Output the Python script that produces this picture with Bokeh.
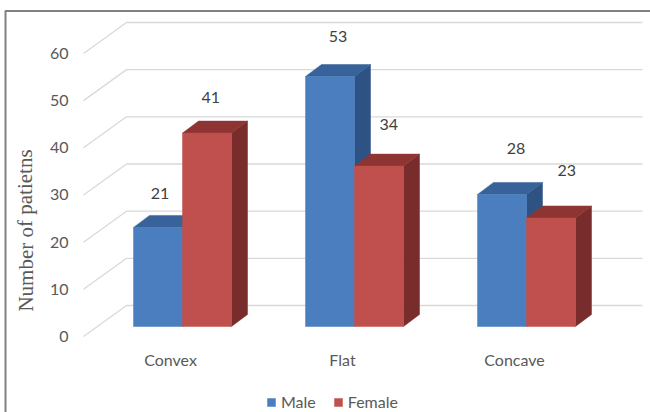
from bokeh.plotting import figure
from bokeh.models import ColumnDataSource, Range1d, Legend, LegendItem
from bokeh.embed import file_html
from bokeh.resources import INLINE
from bokeh.core.properties import value

# ---- data ----
categories = ["Convex", "Flat", "Concave"]
male = [21, 53, 28]
female = [41, 34, 23]
y_ticks = [0, 10, 20, 30, 40, 50, 60]
y_tick_labels = ["0", "10", "20", "30", "40", "50", "60"]
series_names = ["Male", "Female"]
y_title = "Number of patietns"

# ---- style / geometry (pixels) ----
W, H = 650, 412
PX_X = 172.0      # px per category step
CX0 = 182.0       # px of first category center
PX_Y = 4.717      # px per unit of value
BASE = 326.0      # px (from top) of the bar base (front)
BAR_W = 49.0
DEPTH_X, DEPTH_Y = 16.0, 12.0   # bar depth
FONT_NAME = "Lato"
FONT = value(FONT_NAME)
TXT = "#595959"
GRID = "#d9d9d9"
colors = {
    "Male": ("#4a7ebf", "#38629a", "#2e5283"),     # front, top, side
    "Female": ("#c0504d", "#8e3533", "#782c2b"),
}


def X(px):
    return (px - CX0) / PX_X


def Y(py):
    return (BASE - py) / PX_Y


def dx(px):
    return px / PX_X


def dy(px):
    return px / PX_Y


p = figure(width=W, height=H, x_range=Range1d(X(0), X(W)),
           y_range=Range1d(Y(H), Y(0)), output_backend="svg",
           toolbar_location=None, min_border=0)
p.axis.visible = False
p.grid.visible = False
p.outline_line_color = None
p.background_fill_color = "white"

# ---- chart border (top & left) ----
p.line(x=[X(5), X(5), X(W)], y=[Y(H), Y(10.5), Y(10.5)],
       line_color="#808080", line_width=2)

# ---- 3D gridlines (side wall diagonal + back wall horizontal) ----
gx, gy = [], []
for v in y_ticks:
    gx.append([X(83), X(126), X(642)])
    gy.append([v - dy(10), v + dy(21), v + dy(21)])
p.multi_line(xs=gx, ys=gy, line_color=GRID, line_width=1.3)

# ---- y tick labels (front plane) ----
p.text(x=[X(68)] * len(y_ticks), y=[v - dy(10) for v in y_ticks],
       text=y_tick_labels, text_align="right", text_baseline="middle",
       text_font=FONT, text_font_size="16px", text_color=TXT)

# ---- y axis title ----
p.text(x=[X(25)], y=[Y(230)], text=[y_title], angle=1.5708,
       text_align="center", text_baseline="middle",
       text_font=value("Liberation Serif"), text_font_size="21px",
       text_color=TXT)

# ---- bars ----
renderers = {}
for s, vals in zip(series_names, [male, female]):
    front, top, side = colors[s]
    lefts, rights = [], []
    for i, v in enumerate(vals):
        if s == "Male":
            l, r = i - dx(BAR_W), i
        else:
            l, r = i, i + dx(BAR_W)
        lefts.append(l)
        rights.append(r)
    side_xs, side_ys, top_xs, top_ys = [], [], [], []
    for l, r, v in zip(lefts, rights, vals):
        side_xs.append([r, r, r + dx(DEPTH_X), r + dx(DEPTH_X)])
        side_ys.append([0, v, v + dy(DEPTH_Y), dy(DEPTH_Y)])
        top_xs.append([l, r, r + dx(DEPTH_X), l + dx(DEPTH_X)])
        top_ys.append([v, v, v + dy(DEPTH_Y), v + dy(DEPTH_Y)])
    p.patches(xs=side_xs, ys=side_ys, fill_color=side, line_color=side,
              line_width=0.5)
    p.patches(xs=top_xs, ys=top_ys, fill_color=top, line_color=top,
              line_width=0.5)
    src = ColumnDataSource(dict(left=lefts, right=rights,
                                bottom=[0] * len(vals), top=vals))
    renderers[s] = p.quad(left="left", right="right", bottom="bottom",
                          top="top", source=src, fill_color=front,
                          line_color=front, line_width=0.5)

    # value labels (perspective-shifted above bars)
    lx, ly, lt = [], [], []
    for l, r, v in zip(lefts, rights, vals):
        cpx = ((l + r) / 2) * PX_X + CX0
        shift_x = 2 + 0.035 * (cpx - 157)
        shift_y = 34 + 0.035 * (cpx - 157)
        lx.append((l + r) / 2 + dx(shift_x))
        ly.append(v + dy(shift_y))
        lt.append(str(v))
    p.text(x=lx, y=ly, text=lt, text_align="center", text_baseline="middle",
           text_font=FONT, text_font_size="16px", text_color="#404040")

# ---- category labels (front plane) ----
p.text(x=[i - dx(12) for i in range(len(categories))],
       y=[Y(359)] * len(categories), text=categories, text_align="center",
       text_baseline="middle", text_font=FONT, text_font_size="16px",
       text_color=TXT)

# ---- legend ----
legend = Legend(items=[LegendItem(label=s, renderers=[renderers[s]])
                       for s in series_names],
                orientation="horizontal", location=(266, 1),
                glyph_width=10, glyph_height=10, label_standoff=5,
                spacing=17, padding=0, margin=0,
                background_fill_alpha=0, border_line_color=None,
                label_text_font=FONT_NAME, label_text_font_size="16px",
                label_text_color=TXT)
p.add_layout(legend, "center")

open("out.html", "w").write(file_html(p, INLINE))
